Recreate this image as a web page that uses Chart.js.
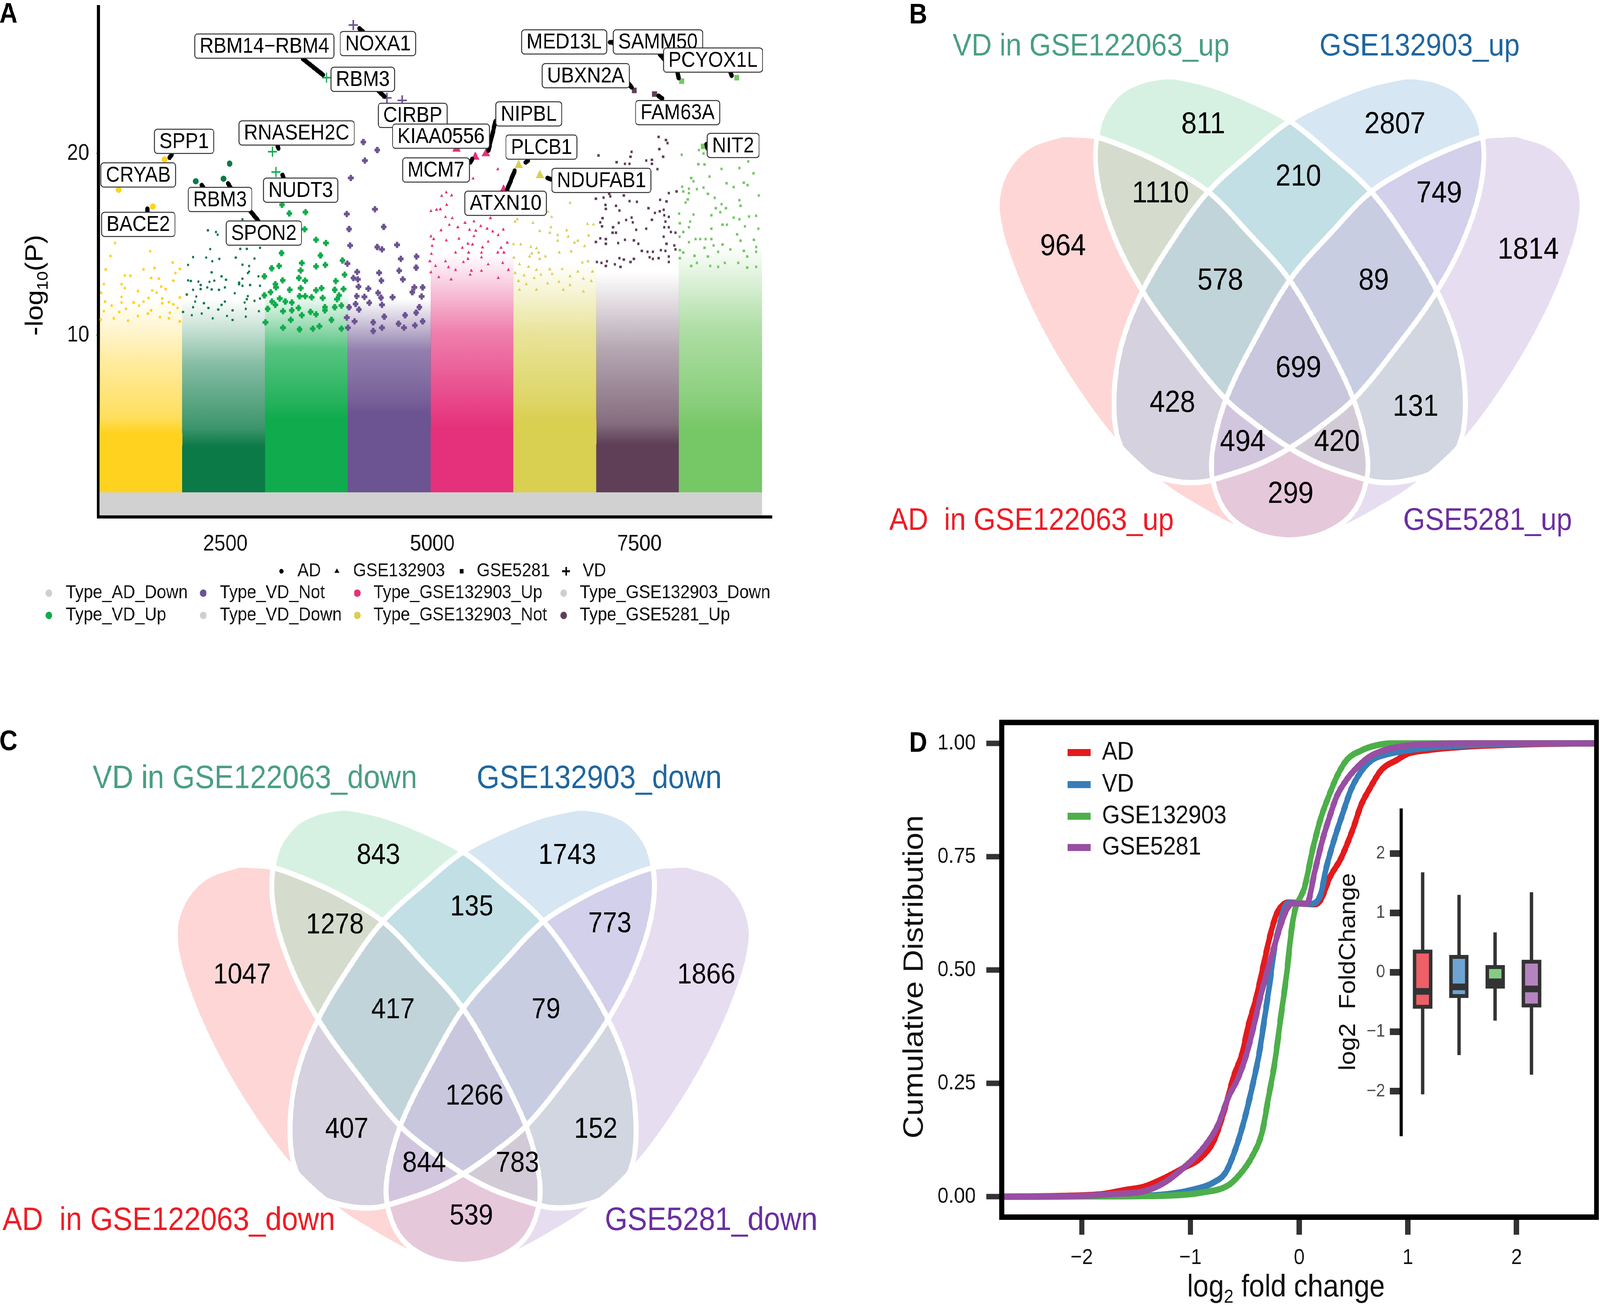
<!DOCTYPE html>
<html><head><meta charset="utf-8">
<script src="https://cdn.jsdelivr.net/npm/chart.js@4/dist/chart.umd.min.js"></script>
<style>html,body{margin:0;padding:0;background:#fff;overflow:hidden}#page{position:absolute;left:0;top:0;width:4550px;height:3345px;transform-origin:0 0}canvas{position:absolute;display:block}</style>
</head><body><div id="page">
<canvas id="a" width="2300" height="1650" style="left:0;top:0;width:2300px;height:1650px"></canvas>
<canvas id="b" width="2050" height="1450" style="left:2500px;top:0;width:2050px;height:1450px"></canvas>
<canvas id="c" width="2400" height="1545" style="left:0;top:1800px;width:2400px;height:1545px"></canvas>
<canvas id="d" width="2050" height="1545" style="left:2500px;top:1800px;width:2050px;height:1545px"></canvas>
<canvas id="e" width="700" height="920" style="left:3760px;top:2030px;width:700px;height:920px"></canvas>
</div>
<script>
/* the browser window may be narrower than the 4550 px layout: fit the page to it */
document.getElementById('page').style.transform='scale('+Math.min(1,window.innerWidth/4550)+','+Math.min(1,window.innerHeight/3345)+')';
/* ---------- Panel A data ---------- */
const groupNames=['AD_Up','AD_Not','VD_Up','VD_Not','GSE132903_Up','GSE132903_Not','GSE5281_Up','GSE5281_Not'];
const groupColors=['#FFD220','#0B7A47','#10AB4C','#6C5391','#E5317B','#D9CF50','#5E3F57','#76C766'];
const groupCentres=[1480,2480,3480,4480,5480,6480,7480,8480];
const bandDown=[1.35,1.35,1.35,1.35,1.35,1.35,1.35,1.35];
const bandSolidTop=[4.6,3.9,5.4,5.7,4.9,5.3,4.0,4.9];
const bandFadeTop=[12,12,12.4,12,14.5,14,13.5,15];
const bandMidCover=[.42,.5,.7,.74,.62,.58,.46,.58];
const g1=[[1166,15.07],[1591,14.62],[1113,14.36],[1864,14],[1055,13.62],[1511,13.62],[1644,13.7],[1950,13.65],[1896,13.42],[1286,13.29],[1352,13.27],[1604,13.15],[1033,12.81],[1246,12.81],[1697,13.11],[1870,13],[1286,12.59],[1445,12.43],[1617,12.46],[1724,12.67],[1777,12.54],[1671,12.34],[999,12.34],[1246,12.11],[1572,12.05],[1950,12.08],[1737,12.02],[1047,11.85],[1392,11.8],[1511,11.85],[1817,11.82],[1126,11.63],[1246,11.8],[1458,11.63],[1737,11.76],[1870,11.7],[1923,11.5],[1033,11.32],[1219,11.28],[1604,11.37],[1299,11.45],[1445,11.06],[1830,11.24],[1564,11.19],[1710,11],[994,10.85],[1153,10.93],[1325,10.8],[1817,10.93],[1950,10.76]];
const g2=[[2289,15.77],[2387,15.68],[2406,15.53],[2706,16.38],[2679,14.75],[2759,14.75],[2918,14.81],[2316,14.74],[2109,14.3],[2268,14.27],[2427,14.2],[2626,14.27],[2852,14.22],[2342,14.07],[2050,13.87],[2706,13.88],[2786,13.81],[2786,13.5],[2334,13.46],[2772,13.42],[2454,13.24],[2507,13.05],[2706,13.11],[2900,13.24],[2050,13.02],[2082,12.98],[2175,12.95],[2366,13],[2308,12.94],[2666,12.81],[2799,12.76],[2918,12.72],[2281,12.63],[2202,12.76],[2666,12.89],[2706,12.72],[2109,12.5],[2202,12.54],[2334,12.52],[2422,12.5],[2494,12.63],[2613,12.31],[2034,12.24],[2148,12.13],[2772,12.15],[2759,11.98],[2918,12.02],[2135,11.85],[2733,11.8],[2241,11.76],[2852,11.89],[2494,11.85],[2109,11.54],[2295,11.5],[2454,11.67],[2414,11.41],[2587,11.37],[2746,11.45],[2905,11.32],[1989,11.28],[2215,11.19],[2520,11.06],[2746,11.02],[2095,11.1],[2587,10.84],[2348,10.93]];
const g3=[[3272,16.7],[3468,16.77],[3184,17.18],[3457,15.83],[3595,15.25],[3715,15.07],[3179,14.52],[3649,14.39],[3423,13.97],[3149,13.81],[3059,13.68],[3595,13.79],[3707,13.87],[3410,13.56],[3914,14.11],[2971,13.24],[3192,13.02],[3388,13.15],[3463,13],[3834,12.98],[3940,13.33],[3104,12.81],[3112,12.63],[3277,12.5],[3410,12.59],[3595,12.47],[3662,12.59],[3821,12.5],[3927,12.54],[3046,12.37],[2971,12.19],[3396,12.15],[3542,12.09],[3675,12.05],[3874,12.19],[3157,12.02],[3463,12.15],[3064,11.85],[3224,11.85],[3303,11.8],[3848,11.98],[3104,11.67],[3702,11.54],[3383,11.5],[3197,11.32],[3303,11.37],[3529,11.28],[3821,11.54],[3901,11.63],[3011,11.45],[3423,11.1],[3595,11.15],[3290,10.84],[3781,10.84],[3702,11.37],[2985,10.71],[3197,10.41],[3396,10.32],[3556,10.36],[3635,10.49],[3901,10.36]];
const g4=[[4166,20.63],[4334,20.19],[4185,19.61],[4015,18.65],[4307,16.93],[3967,16.67],[4413,15.96],[3994,15.84],[4007,14.94],[4334,14.85],[4392,14.72],[4573,14.97],[4618,14.2],[4809,14.33],[3973,13.94],[4804,13.72],[4599,13.55],[4092,13.48],[4357,13.43],[4047,13.15],[4100,13.07],[4384,13],[4644,13.07],[4108,12.67],[4227,12.56],[4782,12.63],[4883,12.63],[4344,12.33],[4758,12.37],[4087,12.15],[4180,12.11],[4379,12.06],[4520,12.09],[4870,12.13],[4238,11.78],[4073,11.72],[4392,11.67],[4843,11.54],[3994,11.54],[4113,11.41],[4671,11.1],[4419,11.02],[4804,11.24],[3967,10.97],[4060,10.76],[4286,10.71],[4591,10.63],[4883,10.76],[3980,10.41],[4286,10.23],[4657,10.41],[4392,10.41],[4790,10.54]];
const g5=[[5791,19.13],[5493,18.62],[5856,18.04],[5168,17.86],[5113,17.67],[5233,17.69],[5173,17.17],[4983,16.83],[5051,16.9],[5097,16.93],[5159,16.51],[5241,16.44],[5205,16.08],[5701,16.44],[5503,16.27],[5395,16.18],[5308,15.94],[5585,16.01],[5856,15.81],[5105,15.77],[5449,15.8],[5525,15.75],[5661,15.86],[5728,15.71],[5322,15.31],[5503,15.46],[5796,15.51],[4983,15.44],[5016,15.29],[5168,15.22],[5674,15.16],[5904,15.09],[5430,15.03],[5485,14.99],[5829,14.81],[4997,14.92],[5363,14.81],[5606,14.83],[5281,14.55],[4989,14.48],[5438,14.55],[5593,14.55],[5791,14.55],[5864,14.55],[5430,14.2],[5593,14.29],[5159,14.07],[4970,14.07],[5376,14.03],[5674,13.9],[5850,13.98],[5038,13.81],[5195,13.74],[5281,13.59],[5471,13.55],[5593,13.55],[5918,13.59],[4983,13.46],[5457,13.33],[5078,13.2],[5227,13.07],[5796,13.15]];
const g6=[[6663,17.28],[6397,16.8],[6441,16.51],[5999,16.25],[6026,16.38],[6216,16.18],[6874,16.12],[6947,16.1],[6433,15.94],[6297,15.73],[6419,15.64],[6622,15.77],[6514,15.51],[6641,15.42],[6888,15.49],[6514,15.2],[6758,15.2],[6717,15.09],[5980,15.01],[6067,15],[6839,14.9],[6189,14.87],[6257,14.78],[6284,14.55],[6202,14.5],[6533,14.55],[6677,14.61],[6175,14.33],[6365,14.33],[5985,14.27],[6297,14.2],[6880,14.07],[6812,14],[6053,13.91],[6568,13.65],[6162,13.76],[6257,13.59],[6419,13.63],[6758,13.5],[5999,13.42],[6934,13.5],[6108,13.29],[6311,13.33],[6446,13.37],[6663,13.24],[6230,13.15],[6040,12.98],[6825,13.11],[6528,12.94],[6920,12.98],[6135,12.81],[6392,12.85],[6663,12.76],[6257,12.5],[6582,12.5],[6825,12.41],[6053,12.5]];
const g7=[[7733,20.91],[7822,20.74],[7841,20.57],[7741,20.24],[7408,20.09],[7394,19.82],[7007,19.89],[7787,19.82],[7226,19.52],[7327,19.43],[7381,19.43],[7584,19.61],[7652,19.65],[7652,19.43],[7719,19.14],[7855,17.82],[7950,17.91],[7137,17.78],[7151,17.64],[6975,17.51],[7069,17.57],[7313,17.69],[7381,17.38],[7470,17.34],[7752,17.45],[7828,17.36],[7091,17.17],[7218,17.12],[7096,16.95],[7259,16.86],[7611,16.99],[7795,16.9],[7687,16.73],[7747,16.82],[7801,16.6],[7056,16.44],[7408,16.47],[7340,16.34],[7652,16.35],[7855,16.51],[7814,16.25],[7029,16.21],[7251,16.18],[7421,16.21],[7050,15.99],[7183,15.94],[7801,15.94],[7855,15.94],[7584,15.86],[7462,15.8],[7178,15.64],[7218,15.64],[7882,15.68],[7936,15.64],[7795,15.42],[7029,15.33],[7096,15.29],[7096,15.03],[6975,15.13],[7245,15.07],[7327,15.25],[7435,15.22],[7489,15.03],[7828,15.03],[7923,14.94],[7530,14.64],[7598,14.59],[7665,14.59],[7760,14.68],[7814,14.64],[7936,14.72],[7625,14.29],[7665,14.2],[7733,14.24],[7855,14.33],[7855,14.03],[7259,14.24],[7435,14.2],[7313,14.16],[7110,14.07],[6988,14.03],[7042,13.98],[7205,13.9],[7394,14.03],[7096,13.81],[7272,13.76]];
const g8=[[8012,19.93],[8221,20.19],[8275,20],[8817,19.56],[8212,19.41],[8288,19.39],[8492,19.15],[8708,19.2],[8879,18.91],[8348,18.73],[8126,18.65],[8153,18.47],[8554,18.36],[8762,18.39],[8808,18.26],[8017,18.17],[8275,18.12],[8641,18.15],[8099,18.06],[8194,18.04],[8031,17.91],[8099,17.82],[8329,17.78],[8410,17.56],[8944,17.69],[8085,17.47],[8708,17.43],[8058,17.3],[8492,17.21],[8722,17.12],[8424,16.99],[8546,16.99],[7980,16.69],[8153,16.64],[8478,16.77],[8112,16.25],[8370,16.6],[8641,16.47],[8708,16.38],[8911,16.57],[8825,16.53],[7990,16.16],[8505,16.08],[8559,16.08],[8776,15.99],[8099,15.94],[8939,15.86],[8370,15.86],[8031,15.68],[8302,15.29],[8234,15.29],[8681,15.55],[7985,15.42],[8180,15.29],[8370,15.29],[8884,15.25],[8722,15.2],[8397,14.94],[8099,15.12],[8505,14.99],[8911,14.85],[8288,14.81],[8600,14.72],[7990,14.68],[8762,14.64],[8166,14.37],[8031,14.55],[8329,14.33],[8451,14.59],[8911,14.59],[8803,14.33],[7990,14.24],[8194,13.98],[8532,13.98],[8356,13.81],[8695,13.98],[8911,13.76],[8126,13.81],[8451,13.76],[8803,13.72]];
const hiPoints=[[4044,27.07,3],[3721,24.17,2],[4452,23.06,3],[4635,22.92,3],[1764,19.67,0],[1210,18,0],[1624,17.08,0],[2142,18.47,1],[2478,18.61,1],[2551,19.44,1],[3069,20.1,2],[3111,18.98,2],[5293,20.25,4],[5647,20,4],[5519,19.81,4],[6043,19.35,5],[5860,18,4],[6299,18.79,5],[7201,26.1,6],[7793,25.4,6],[8012,23.98,7],[8676,24.17,7],[7439,23.47,6],[7683,23.27,6],[8274,20.39,7]];
const geneNames=['NOXA1','RBM14\u2212RBM4','RBM3','CIRBP','SPP1','CRYAB','BACE2','RBM3','SPON2','RNASEH2C','NUDT3','KIAA0556','NIPBL','MCM7','PLCB1','ATXN10','NDUFAB1','MED13L','SAMM50','PCYOX1L','UBXN2A','FAM63A','NIT2'];
const geneAnchor=[[4343,26.05],[2971,25.91],[4160,24.08],[4763,22.1],[2002,20.67],[1448,18.82],[1448,16.1],[2435,17.47],[2965,15.62],[3361,21.13],[3410,17.98],[5105,20.95],[6165,22.18],[5044,19.09],[6318,20.35],[5885,17.26],[7043,18.52],[6592,26.14],[7725,26.14],[8390,25.14],[6854,24.28],[7963,22.25],[8634,20.44]];
const geneLinks=[[4117,26.88,4166,26.69],[3435,25.21,3678,24.33],[4349,23.45,4422,23.13],[1850,19.93,1826,19.77],[1557,16.8,1557,16.96],[2215,18.26,2234,18.12],[2532,18.35,2563,18.12],[2807,16.8,2898,16.29],[3142,20.28,3130,20.39],[3191,18.82,3203,18.65],[5677,20.16,5763,21.78],[5458,19.51,5482,19.7],[6128,19.51,6153,19.6],[5903,18,5994,19.05],[6391,18.65,6433,18.58],[7147,26.12,7189,26.12],[7750,25.44,7823,25.07],[7963,24.45,7975,24.15],[8603,24.45,8615,24.28],[7366,23.87,7409,23.64],[7731,23.17,7774,23.03],[8311,20.51,8323,20.28]];
const shapeLegend=['AD','GSE132903','GSE5281','VD'];
const colourLegend=[['Type_AD_Down','Type_VD_Not','Type_GSE132903_Up','Type_GSE132903_Down'],['Type_VD_Up','Type_VD_Down','Type_GSE132903_Not','Type_GSE5281_Up']];

/* ---------- Venn data ---------- */
const vennRedOutline=[[410,372],[425,373],[470,378],[560,420],[640,470],[720,535],[800,640],[890,770],[960,920],[1030,1100],[1060,1240],[1060,1330],[1030,1420],[970,1475],[893,1495],[830,1485],[770,1458],[700,1410],[620,1345],[520,1230],[430,1080],[350,910],[290,740],[258,590],[270,490],[320,410],[395,373],[410,372]];
const vennGreenOutline=[[630,212],[645,213],[720,235],[810,280],[893,335],[980,425],[1070,530],[1145,660],[1215,810],[1260,960],[1275,1110],[1262,1230],[1215,1300],[1150,1330],[1090,1335],[1040,1320],[960,1285],[893,1240],[820,1175],[750,1100],[660,960],[575,810],[510,650],[473,480],[480,340],[520,260],[570,225],[615,213],[630,212]];
const vennCountsB=[964,811,2807,1110,210,749,1814,578,89,699,428,131,494,420,299];
const vennCountPosB=[[400,683],[705,345],[1122,345],[612,537],[912,490],[1218,537],[1412,693],[742,778],[1076,778],[912,1020],[638,1117],[1167,1127],[791,1225],[996,1225],[895,1368]];
const vennCountsC=[1047,843,1743,1278,135,773,1866,417,79,1266,407,152,844,783,539];
const vennCountPosC=[[405,683],[706,347],[1123,347],[610,542],[912,491],[1217,539],[1430,683],[738,780],[1076,780],[918,1023],[636,1116],[1186,1116],[807,1212],[1013,1212],[911,1360]];
const vennTitlesB=['VD in GSE122063_up','GSE132903_up','AD  in GSE122063_up','GSE5281_up'];
const vennTitlesC=['VD in GSE122063_down','GSE132903_down','AD  in GSE122063_down','GSE5281_down'];

/* ---------- Panel D data ---------- */
const cdfAD=[[-2.735,0],[-2,.003],[-1.8,.006],[-1.6,.015],[-1.43,.022],[-1.25,.04],[-1.06,.064],[-.914,.084],[-.784,.124],[-.691,.188],[-.6,.267],[-.524,.316],[-.469,.376],[-.394,.44],[-.32,.52],[-.264,.579],[-.209,.623],[-.153,.643],[-.098,.649],[.144,.645],[.199,.655],[.283,.705],[.384,.746],[.496,.812],[.57,.864],[.644,.898],[.755,.941],[.904,.964],[.996,.977],[1.182,.985],[1.553,.993],[2.11,.998],[2.735,1]];
const cdfVD=[[-2.735,0],[-1.6,.001],[-1.2,.006],[-.988,.015],[-.784,.032],[-.673,.055],[-.58,.109],[-.506,.168],[-.432,.242],[-.367,.317],[-.32,.391],[-.274,.465],[-.227,.549],[-.181,.598],[-.135,.638],[-.088,.648],[.107,.646],[.199,.668],[.246,.722],[.32,.786],[.403,.847],[.477,.898],[.57,.938],[.663,.962],[.811,.976],[.96,.983],[1.182,.99],[1.74,.997],[2.2,.9995],[2.735,1]];
const cdfGSE132903=[[-2.735,0],[-1.6,.001],[-1.15,.003],[-.9,.009],[-.654,.025],[-.543,.05],[-.432,.089],[-.339,.144],[-.283,.218],[-.227,.292],[-.172,.391],[-.116,.49],[-.07,.589],[-.033,.638],[-.005,.653],[.05,.683],[.124,.766],[.199,.835],[.273,.884],[.347,.927],[.44,.964],[.57,.984],[.7,.995],[.848,1],[2.735,1]];
const cdfGSE5281=[[-2.735,0],[-2,.002],[-1.7,.006],[-1.43,.012],[-1.248,.03],[-1.062,.064],[-.877,.109],[-.747,.158],[-.654,.218],[-.561,.262],[-.487,.312],[-.413,.381],[-.357,.44],[-.302,.49],[-.227,.554],[-.172,.598],[-.116,.633],[-.061,.647],[.07,.646],[.143,.717],[.217,.789],[.292,.847],[.347,.884],[.44,.921],[.533,.947],[.644,.97],[.774,.984],[.96,.994],[1.18,.998],[1.5,1],[2.735,1]];
const seriesNames=['AD','VD','GSE132903','GSE5281'];
const seriesColors=['#E41A1C','#377EB8','#4DAF4A','#984EA3'];
const boxFills=['#EE5F66','#6FA3D2','#85CB82','#B584C0'];
const boxPositions=[1,2,3,4];
const boxLow=[-2.05,-1.39,-.81,-1.72];
const boxQ1=[-.61,-.43,-.27,-.59];
const boxMedian=[-.32,-.245,-.16,-.28];
const boxQ3=[.38,.29,.12,.21];
const boxHigh=[1.68,1.30,.67,1.345];

/* ---------- helpers ---------- */
const FONT='"Liberation Sans",Arial,sans-serif';
function T(ctx,s,x,y,size,color,align,rot,weight){
  ctx.save();ctx.translate(x,y);if(rot)ctx.rotate(rot);
  ctx.font=(weight?weight+' ':'')+size+'px '+FONT;ctx.fillStyle=color||'#000';ctx.textAlign=align||'left';ctx.textBaseline='middle';
  ctx.fillText(s,0,0);ctx.restore();
}
function subText(ctx,parts,x,y,size,color,rot){
  ctx.save();ctx.translate(x,y);if(rot)ctx.rotate(rot);ctx.fillStyle=color||'#000';ctx.textBaseline='alphabetic';
  let w=0;parts.forEach(p=>{ctx.font=(p[1]?size*.62:size)+'px '+FONT;w+=ctx.measureText(p[0]).width;});
  let cx=-w/2;parts.forEach(p=>{ctx.font=(p[1]?size*.62:size)+'px '+FONT;ctx.fillText(p[0],cx,size*.36+(p[1]?size*.2:0));cx+=ctx.measureText(p[0]).width;});
  ctx.restore();
}
const base={responsive:false,animation:false,devicePixelRatio:1,events:[],plugins:{legend:{display:false},tooltip:{enabled:false}}};
const pts=a=>a.map(p=>({x:p[0],y:p[1]}));
const noPad=s=>{s.paddingTop=s.paddingBottom=s.paddingLeft=s.paddingRight=0;};

/* ---------- Panel A ---------- */
const rgba=(h,a)=>{const n=parseInt(h.slice(1),16);return `rgba(${n>>16},${(n>>8)&255},${n&255},${a})`;};
const barBase={type:'bar',grouped:false,barPercentage:1,categoryPercentage:1};
const fadeColor=ctx=>{
  const i=ctx.dataIndex,ch=ctx.chart,y=ch.scales.y;
  if(i===undefined||!y)return groupColors[0];
  const y0=y.getPixelForValue(bandSolidTop[i]),y1=y.getPixelForValue(bandFadeTop[i]);
  if(!isFinite(y0)||!isFinite(y1))return rgba(groupColors[i],bandMidCover[i]);
  const g=ch.ctx.createLinearGradient(0,y0,0,y1);
  g.addColorStop(0,groupColors[i]);
  g.addColorStop(.12,rgba(groupColors[i],Math.min(.92,bandMidCover[i]+.3)));
  g.addColorStop(.55,rgba(groupColors[i],bandMidCover[i]));
  g.addColorStop(1,rgba(groupColors[i],0));
  return g;
};
const scat=(d,i,style,r,extra)=>Object.assign({type:'scatter',order:5,data:pts(d),pointStyle:style,pointRadius:r,
  pointBackgroundColor:groupColors[i],pointBorderColor:groupColors[i],pointBorderWidth:0,clip:false},extra||{});
const hiStyle=['circle','circle','cross','cross','triangle','triangle','rect','rect'];
const hiSize=[8,8,13,13,14,14,10,10];
const aPlugin={id:'aText',afterDatasetsDraw(ch){
  const c=ch.ctx,sx=ch.scales.x,sy=ch.scales.y;
  c.save();c.strokeStyle='#000';c.lineWidth=12;c.lineCap='round';
  geneLinks.forEach(l=>{c.beginPath();c.moveTo(sx.getPixelForValue(l[0]),sy.getPixelForValue(l[1]));c.lineTo(sx.getPixelForValue(l[2]),sy.getPixelForValue(l[3]));c.stroke();});
  c.font='55px '+FONT;
  geneNames.forEach((g,i)=>{
    const w=c.measureText(g).width+28,h=62,x=sx.getPixelForValue(geneAnchor[i][0]),y=sy.getPixelForValue(geneAnchor[i][1]);
    c.beginPath();c.roundRect(x-w/2,y-h/2,w,h,8);c.fillStyle='#fff';c.fill();c.lineWidth=2.5;c.strokeStyle='#333';c.stroke();
    c.fillStyle='#000';c.textAlign='center';c.textBaseline='middle';c.fillText(g,x,y+2);
  });
  c.restore();
  subText(c,[['-log'],['10',1],['(P)']],96,730,70,'#000',-Math.PI/2);
  T(c,'A',-2,38,72,'#000','left',0,'bold');
  const mk=(style,x,y,r)=>{Chart.helpers.drawPoint(c,{pointStyle:style,radius:r,borderWidth:style==='cross'?5:0},x,y);};
  const shapeX=[800,958,1313,1610],shapeT=[846,1004,1356,1657],shapeS=['circle','triangle','rect','cross'];
  shapeLegend.forEach((s,i)=>{c.fillStyle='#000';c.strokeStyle='#000';c.lineWidth=5;mk(shapeS[i],shapeX[i],1462,i===3?11:[6,8,8][i]);
    T(c,s,shapeT[i],1462,48,'#111');});
  const dotX=[139,578,1016,1603],txtX=[187,625,1062,1649],rowY=[1518,1575];
  const dotC=[['#CFCFCF','#6C5391','#E5317B','#CFCFCF'],['#10AB4C','#CFCFCF','#D9CF50','#5E3F57']];
  colourLegend.forEach((row,r)=>row.forEach((s,i)=>{c.beginPath();c.arc(dotX[i],rowY[r],9.5,0,7);c.fillStyle=dotC[r][i];c.fill();T(c,s,txtX[i],rowY[r],48,'#111');}));
}};
new Chart(document.getElementById('a'),{type:'bar',data:{datasets:[
  {type:'scatter',order:1,clip:false,data:hiPoints.map(p=>({x:p[0],y:p[1]})),
   pointStyle:hiPoints.map(p=>hiStyle[p[2]]),pointRadius:hiPoints.map(p=>hiSize[p[2]]),
   pointBackgroundColor:hiPoints.map(p=>groupColors[p[2]]),pointBorderColor:hiPoints.map(p=>groupColors[p[2]]),pointBorderWidth:hiPoints.map(p=>hiStyle[p[2]]==='cross'?4:0)},
  scat(g1,0,'circle',3.6),scat(g2,1,'circle',3.2),
  scat(g3,2,'cross',8,{pointBorderWidth:7}),scat(g4,3,'cross',8,{pointBorderWidth:7}),
  scat(g5,4,'triangle',5.2),scat(g6,5,'triangle',5.2),scat(g7,6,'rect',4.6),scat(g8,7,'rect',4.6),
  Object.assign({},barBase,{order:10,backgroundColor:'#D1D1D1',data:groupCentres.map((x,i)=>({x,y:[.1,bandDown[i]]}))}),
  Object.assign({},barBase,{order:20,backgroundColor:groupColors,data:groupCentres.map((x,i)=>({x,y:[bandDown[i],bandSolidTop[i]]}))}),
  Object.assign({},barBase,{order:20,backgroundColor:fadeColor,data:groupCentres.map((x,i)=>({x,y:[bandSolidTop[i],bandFadeTop[i]]}))})
]},options:Object.assign({},base,{
  layout:{padding:{left:0,right:105,top:9,bottom:0}},
  scales:{
    x:{type:'linear',offset:false,min:967,max:9101,afterFit(s){s.height=327;noPad(s);},afterBuildTicks(s){s.ticks=[2500,5000,7500].map(v=>({value:v}));},
       border:{display:true,color:'#000',width:8},grid:{offset:false,drawOnChartArea:false,drawTicks:false},
       ticks:{callback:v=>String(v),font:{family:FONT,size:57},color:'#111',padding:36,maxRotation:0,autoSkip:false}},
    y:{type:'linear',min:0,max:28.08,afterFit(s){s.width=280;noPad(s);},afterBuildTicks(s){s.ticks=[10,20].map(v=>({value:v}));},
       border:{display:true,color:'#000',width:8},grid:{drawOnChartArea:false,tickLength:6,tickWidth:3,tickColor:'#333'},
       ticks:{callback:v=>String(v),font:{family:FONT,size:57},color:'#111',padding:20,autoSkip:false}}
  }}),plugins:[aPlugin]});

/* ---------- Panels B, C ---------- */
const vennFill=['rgba(253,173,173,.5)','rgba(173,227,197,.5)','rgba(173,205,231,.5)','rgba(207,187,225,.5)'];
const titleColours=['#4A9E84','#1F669F','#EE1C25','#6A2FA0'];
const mirror=a=>a.map(p=>[1786-p[0],p[1]]);
const shapes=[vennRedOutline,vennGreenOutline,mirror(vennGreenOutline),mirror(vennRedOutline)];
function venn(id,xr,yr,counts,pos,titles,titlePos,cSize,tSize,letter,letterPos){
  const ds=[];
  shapes.forEach((s,i)=>ds.push({type:'line',order:9-i,data:pts(s),fill:'shape',backgroundColor:vennFill[i],borderWidth:0,tension:.35,pointRadius:0,clip:false}));
  shapes.forEach((s,i)=>ds.push({type:'line',order:1,data:pts(s),fill:false,borderColor:'#fff',borderWidth:14,tension:.35,pointRadius:0,clip:false}));
  new Chart(document.getElementById(id),{type:'line',data:{datasets:ds},options:Object.assign({},base,{
    layout:{padding:0},
    scales:{x:{type:'linear',display:false,min:xr[0],max:xr[1]},y:{type:'linear',display:false,reverse:true,min:yr[0],max:yr[1]}}
  }),plugins:[{id:'vennText',afterDatasetsDraw(ch){
    const c=ch.ctx,sx=ch.scales.x,sy=ch.scales.y;
    counts.forEach((n,i)=>T(c,String(n),sx.getPixelForValue(pos[i][0]),sy.getPixelForValue(pos[i][1]),cSize,'#000','center'));
    titles.forEach((t,i)=>T(c,t,sx.getPixelForValue(titlePos[i][0]),sy.getPixelForValue(titlePos[i][1]),tSize,titleColours[i]));
    T(c,letter,letterPos[0],letterPos[1],72,'#000','left',0,'bold');
  }}]});
}
venn('b',[0,1568],[0,1568],vennCountsB,vennCountPosB,vennTitlesB,[[160,130],[958,130],[22,1443],[1140,1443]],78,80,'B',[85,40]);
venn('c',[-129.7,1734],[-82.4,1614],vennCountsC,vennCountPosC,vennTitlesC,[[75,131],[923,131],[-124,1373],[1206,1373]],74,83,'C',[-2,100]);

/* ---------- Panel D ---------- */
const cdfSets=[cdfGSE5281,cdfGSE132903,cdfVD,cdfAD];
const cdfOrder=[3,2,1,0];
new Chart(document.getElementById('d'),{type:'line',data:{datasets:cdfSets.map((d,i)=>({
  label:seriesNames[cdfOrder[i]],data:pts(d),borderColor:seriesColors[cdfOrder[i]],borderWidth:16,pointRadius:0,cubicInterpolationMode:'monotone',fill:false,borderJoinStyle:'round',order:i
}))},options:Object.assign({},base,{
  layout:{padding:{left:0,right:10,top:49,bottom:0}},
  scales:{
    x:{type:'linear',min:-2.735,max:2.735,afterFit(s){s.height=230;noPad(s);},afterBuildTicks(s){s.ticks=[-2,-1,0,1,2].map(v=>({value:v}));},
      border:{display:false},grid:{drawOnChartArea:false,tickLength:45,tickWidth:15,tickColor:'#333'},
      ticks:{callback:v=>String(v).replace('-','\u2212'),font:{family:FONT,size:56},color:'#111',padding:26,maxRotation:0,autoSkip:false}},
    y:{type:'linear',min:-.045,max:1.046,afterFit(s){s.width=349;noPad(s);},afterBuildTicks(s){s.ticks=[0,.25,.5,.75,1].map(v=>({value:v}));},
      border:{display:false},grid:{drawOnChartArea:false,tickLength:44,tickWidth:14,tickColor:'#333'},
      ticks:{callback:v=>v.toFixed(2),font:{family:FONT,size:56},color:'#111',padding:30,autoSkip:false}}
  }}),plugins:[{id:'dText',afterDatasetsDraw(ch){
    const c=ch.ctx,a=ch.chartArea;
    c.save();c.strokeStyle='#000';c.lineWidth=14;c.strokeRect(a.left,a.top,a.right-a.left,a.bottom-a.top);
    seriesNames.forEach((s,i)=>{const y=[126,208,289,369][i];c.fillStyle=seriesColors[i];c.fillRect(536,y-9,65,18);T(c,s,634,y,65,'#111');});
    c.restore();
    T(c,'Cumulative Distribution',102,700,80.5,'#111','center',-Math.PI/2);
    subText(c,[['log'],['2',1],[' fold change']],1157,1490,79,'#111');
    T(c,'D',85,104,72,'#000','left',0,'bold');
  }}]});

/* ---------- Panel D inset ---------- */
new Chart(document.getElementById('e'),{type:'bar',data:{datasets:[
  {type:'scatter',order:1,data:boxPositions.map((x,i)=>({x,y:boxMedian[i]})),pointStyle:'line',pointRadius:26,pointBorderWidth:17,pointBorderColor:'#333',pointBackgroundColor:'#333'},
  {type:'bar',order:2,grouped:false,data:boxPositions.map((x,i)=>({x,y:[boxQ1[i],boxQ3[i]]})),barThickness:55,backgroundColor:boxFills,borderColor:'#333',borderWidth:10,borderSkipped:false},
  {type:'bar',order:3,grouped:false,data:boxPositions.map((x,i)=>({x,y:[boxLow[i],boxHigh[i]]})),barThickness:9,backgroundColor:'#333'}
]},options:Object.assign({},base,{
  layout:{padding:{left:0,right:19,top:16,bottom:20}},
  scales:{
    x:{type:'linear',offset:false,display:false,min:.404,max:4.6},
    y:{type:'linear',min:-2.75,max:2.73,afterFit(s){s.width=224;noPad(s);},afterBuildTicks(s){s.ticks=[-2,-1,0,1,2].map(v=>({value:v}));},
      border:{display:true,color:'#000',width:9},grid:{drawOnChartArea:false,tickLength:32,tickWidth:17,tickColor:'#333'},
      ticks:{callback:v=>String(v).replace('-','\u2212'),font:{family:FONT,size:46},color:'#4d4d4d',padding:13,autoSkip:false}}
  }}),plugins:[{id:'eText',afterDatasetsDraw(ch){T(ch.ctx,'log2  FoldChange',75,457,64,'#111','center',-Math.PI/2);}}]});
</script>
</body></html>
